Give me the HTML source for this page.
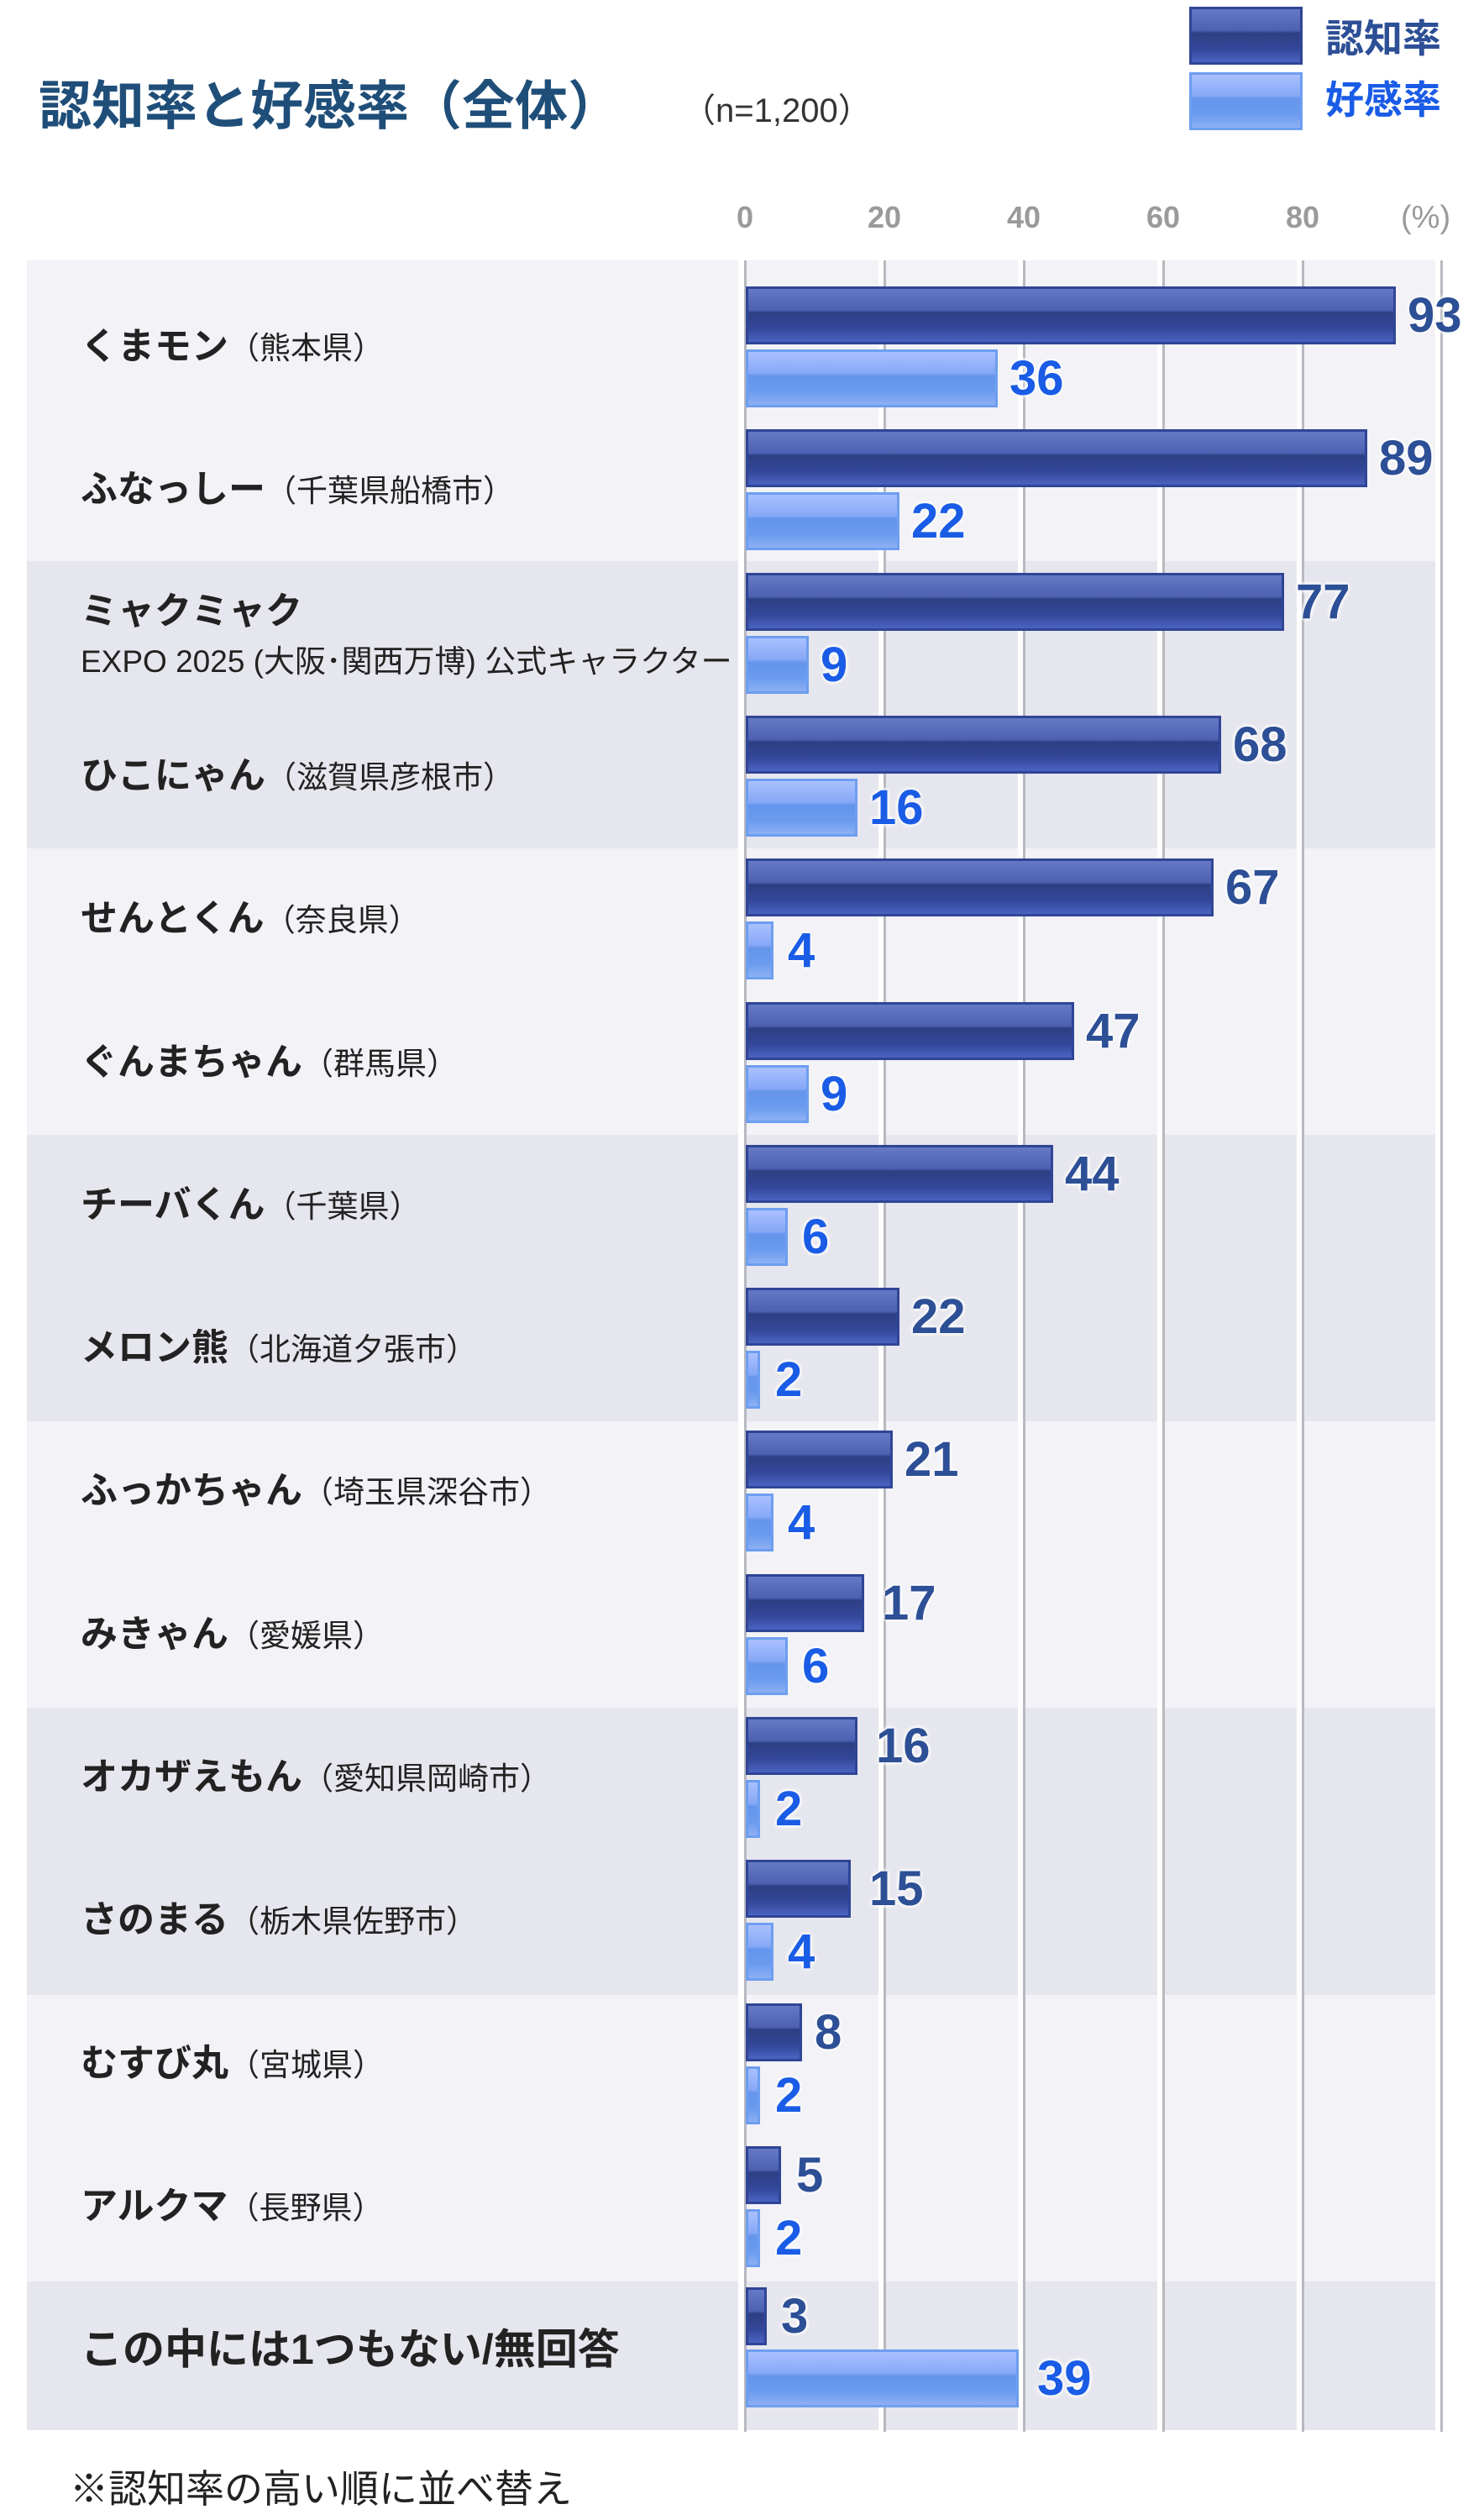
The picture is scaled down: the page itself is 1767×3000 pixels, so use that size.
<!DOCTYPE html>
<html><head><meta charset="utf-8"><style>
body{margin:0;width:1767px;height:3000px;background:#fff;position:relative;overflow:hidden;font-family:"Liberation Sans","Noto Sans CJK JP",sans-serif}
div{position:absolute;box-sizing:border-box}
.band{left:32px;width:1677px}
.L{background:#f2f2f7}.D{background:#e6e6ee}
.gap{width:6px;background:#fff;top:310px;height:2585px}
.gl{width:3px;background:#b8b8c0;top:310px;height:2585px}
.dk{left:888px;height:69px;border:3px solid #2f4596;background:linear-gradient(#6679c6 0%,#4d61b2 40%,#2d3f82 45%,#34479a 75%,#4b63c2 100%)}
.lt{left:888px;height:69px;border:3px solid #6d9ef0;background:linear-gradient(#aac0ff 0%,#86a8f6 40%,#6595ec 45%,#6b9bee 75%,#8db0f4 100%)}
.v{font-weight:bold;font-size:58px;line-height:69px;height:69px;text-shadow:0 0 6px #fff,0 0 6px #fff,0 0 4px #fff}
.vd{color:#2d4f96}.vl{color:#1a5ce6}
.lab{left:96px;height:80px;line-height:80px;white-space:nowrap;color:#222}
.n{font-weight:bold;font-size:44px;font-family:"Liberation Sans","Noto Sans CJK JP",sans-serif}
.p{font-size:37px;margin-left:0}
.ax{top:235px;font-size:36px;font-weight:bold;color:#9a9a9a;width:80px;text-align:center;line-height:48px}
</style></head><body>
<div style="left:46px;top:88px;font-size:63px;font-weight:bold;color:#1f4e79;line-height:78px;white-space:nowrap">認知率と好感率（全体）</div>
<div style="left:812px;top:108px;font-size:40px;color:#333;line-height:48px">（n=1,200）</div>
<div style="left:1416px;top:8px;width:135px;height:69px;border:3px solid #2f4596;background:linear-gradient(#6679c6,#4d61b2 40%,#2d3f82 45%,#34479a 75%,#4b63c2)"></div>
<div style="left:1416px;top:86px;width:135px;height:69px;border:3px solid #6d9ef0;background:linear-gradient(#aac0ff,#86a8f6 40%,#6595ec 45%,#6b9bee 75%,#8db0f4)"></div>
<div style="left:1578px;top:18px;font-size:46px;font-weight:bold;color:#2d4f96;line-height:56px">認知率</div>
<div style="left:1578px;top:91px;font-size:46px;font-weight:bold;color:#1a5ce6;line-height:56px">好感率</div>
<div class="ax" style="left:847px">0</div><div class="ax" style="left:1013px">20</div><div class="ax" style="left:1179px">40</div><div class="ax" style="left:1345px">60</div><div class="ax" style="left:1511px">80</div>
<div class="ax" style="left:1668px;font-weight:normal;font-size:38px;width:auto">(%)</div>

<div class="band L" style="top:310px;height:358px"></div>
<div class="band D" style="top:668px;height:342px"></div>
<div class="band L" style="top:1010px;height:341px"></div>
<div class="band D" style="top:1351px;height:341px"></div>
<div class="band L" style="top:1692px;height:341px"></div>
<div class="band D" style="top:2033px;height:342px"></div>
<div class="band L" style="top:2375px;height:341px"></div>
<div class="band D" style="top:2716px;height:177px"></div>

<div class="gap" style="left:879px;width:8px"></div><div class="gl" style="left:886px"></div>
<div class="gap" style="left:1046px"></div><div class="gl" style="left:1052px"></div>
<div class="gap" style="left:1212px"></div><div class="gl" style="left:1218px"></div>
<div class="gap" style="left:1378px"></div><div class="gl" style="left:1384px"></div>
<div class="gap" style="left:1544px"></div><div class="gl" style="left:1550px"></div>
<div class="gl" style="left:1715px"></div>

<div class="lab" style="top:373px"><span class="n">くまモン</span><span class="p">（熊本県）</span></div>
<div class="lab" style="top:543px"><span class="n">ふなっしー</span><span class="p">（千葉県船橋市）</span></div>
<div class="lab" style="top:688px"><span class="n">ミャクミャク</span></div>
<div class="lab" style="top:748px;font-size:37px">EXPO 2025 (大阪･関西万博) 公式キャラクター</div>
<div class="lab" style="top:884px"><span class="n">ひこにゃん</span><span class="p">（滋賀県彦根市）</span></div>
<div class="lab" style="top:1054px"><span class="n">せんとくん</span><span class="p">（奈良県）</span></div>
<div class="lab" style="top:1225px"><span class="n">ぐんまちゃん</span><span class="p">（群馬県）</span></div>
<div class="lab" style="top:1395px"><span class="n">チーバくん</span><span class="p">（千葉県）</span></div>
<div class="lab" style="top:1565px"><span class="n">メロン熊</span><span class="p">（北海道夕張市）</span></div>
<div class="lab" style="top:1735px"><span class="n">ふっかちゃん</span><span class="p">（埼玉県深谷市）</span></div>
<div class="lab" style="top:1906px"><span class="n">みきゃん</span><span class="p">（愛媛県）</span></div>
<div class="lab" style="top:2076px"><span class="n">オカザえもん</span><span class="p">（愛知県岡崎市）</span></div>
<div class="lab" style="top:2246px"><span class="n">さのまる</span><span class="p">（栃木県佐野市）</span></div>
<div class="lab" style="top:2417px"><span class="n">むすび丸</span><span class="p">（宮城県）</span></div>
<div class="lab" style="top:2587px"><span class="n">アルクマ</span><span class="p">（長野県）</span></div>
<div class="lab" style="top:2757px"><span class="n" style="font-size:50px">この中には1つもない/無回答</span></div>

<div class="dk" style="top:341px;width:774px"></div><div class="v vd" style="top:341px;left:1676px">93</div>
<div class="lt" style="top:416px;width:300px"></div><div class="v vl" style="top:416px;left:1202px">36</div>
<div class="dk" style="top:511px;width:740px"></div><div class="v vd" style="top:511px;left:1642px">89</div>
<div class="lt" style="top:586px;width:183px"></div><div class="v vl" style="top:586px;left:1085px">22</div>
<div class="dk" style="top:682px;width:641px"></div><div class="v vd" style="top:682px;left:1543px">77</div>
<div class="lt" style="top:757px;width:75px"></div><div class="v vl" style="top:757px;left:977px">9</div>
<div class="dk" style="top:852px;width:566px"></div><div class="v vd" style="top:852px;left:1468px">68</div>
<div class="lt" style="top:927px;width:133px"></div><div class="v vl" style="top:927px;left:1035px">16</div>
<div class="dk" style="top:1022px;width:557px"></div><div class="v vd" style="top:1022px;left:1459px">67</div>
<div class="lt" style="top:1097px;width:33px"></div><div class="v vl" style="top:1097px;left:938px">4</div>
<div class="dk" style="top:1193px;width:391px"></div><div class="v vd" style="top:1193px;left:1293px">47</div>
<div class="lt" style="top:1268px;width:75px"></div><div class="v vl" style="top:1268px;left:977px">9</div>
<div class="dk" style="top:1363px;width:366px"></div><div class="v vd" style="top:1363px;left:1268px">44</div>
<div class="lt" style="top:1438px;width:50px"></div><div class="v vl" style="top:1438px;left:955px">6</div>
<div class="dk" style="top:1533px;width:183px"></div><div class="v vd" style="top:1533px;left:1085px">22</div>
<div class="lt" style="top:1608px;width:17px"></div><div class="v vl" style="top:1608px;left:923px">2</div>
<div class="dk" style="top:1703px;width:175px"></div><div class="v vd" style="top:1703px;left:1077px">21</div>
<div class="lt" style="top:1778px;width:33px"></div><div class="v vl" style="top:1778px;left:938px">4</div>
<div class="dk" style="top:1874px;width:141px"></div><div class="v vd" style="top:1874px;left:1050px">17</div>
<div class="lt" style="top:1949px;width:50px"></div><div class="v vl" style="top:1949px;left:955px">6</div>
<div class="dk" style="top:2044px;width:133px"></div><div class="v vd" style="top:2044px;left:1043px">16</div>
<div class="lt" style="top:2119px;width:17px"></div><div class="v vl" style="top:2119px;left:923px">2</div>
<div class="dk" style="top:2214px;width:125px"></div><div class="v vd" style="top:2214px;left:1035px">15</div>
<div class="lt" style="top:2289px;width:33px"></div><div class="v vl" style="top:2289px;left:938px">4</div>
<div class="dk" style="top:2385px;width:67px"></div><div class="v vd" style="top:2385px;left:970px">8</div>
<div class="lt" style="top:2460px;width:17px"></div><div class="v vl" style="top:2460px;left:923px">2</div>
<div class="dk" style="top:2555px;width:42px"></div><div class="v vd" style="top:2555px;left:948px">5</div>
<div class="lt" style="top:2630px;width:17px"></div><div class="v vl" style="top:2630px;left:923px">2</div>
<div class="dk" style="top:2723px;width:25px"></div><div class="v vd" style="top:2723px;left:930px">3</div>
<div class="lt" style="top:2797px;width:325px"></div><div class="v vl" style="top:2797px;left:1235px">39</div>

<div style="left:83px;top:2935px;font-size:46px;color:#222;line-height:56px;white-space:nowrap">※認知率の高い順に並べ替え</div>
</body></html>
